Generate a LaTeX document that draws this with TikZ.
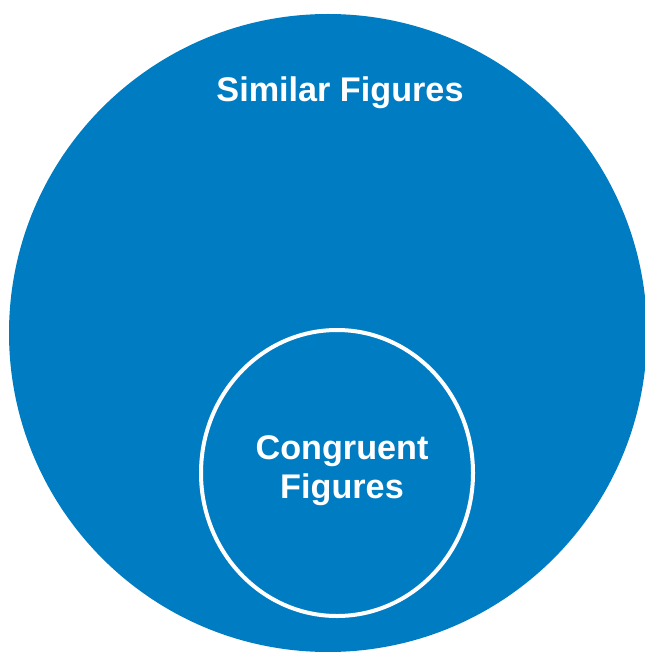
\documentclass[tikz,border=0pt]{standalone}
\usepackage{fontspec}
\setmainfont{Liberation Sans}
\usetikzlibrary{positioning}
\usetikzlibrary{shapes.geometric}

\definecolor{setblue}{RGB}{0,124,194}

\begin{document}
\begin{tikzpicture}
    [
    x=1pt, y=-1pt,
    every node/.style={inner sep=0pt, outer sep=0pt},
    outer set/.style={circle, fill=setblue, draw=none, minimum size=638pt},
    inner set/.style={ellipse, draw=white, line width=4pt, minimum width=272pt, minimum height=286pt},
    set label/.style={text=white, font=\fontsize{34.2}{39}\selectfont\bfseries},
    ]

    \useasboundingbox (0,0) rectangle (644,652);

    \node[outer set] (similar) at (328,333) {};
    \node[inner set] (congruent) at (337,473) {};

    \node[set label, anchor=base] (similar_label) at (340,102) {Similar Figures};
    \node[set label, anchor=base] (congruent_label) at (342,459) {Congruent};
    \node[set label, anchor=base] (congruent_label2) at ([yshift=-39pt]congruent_label.base) {Figures};
\end{tikzpicture}
\end{document}
